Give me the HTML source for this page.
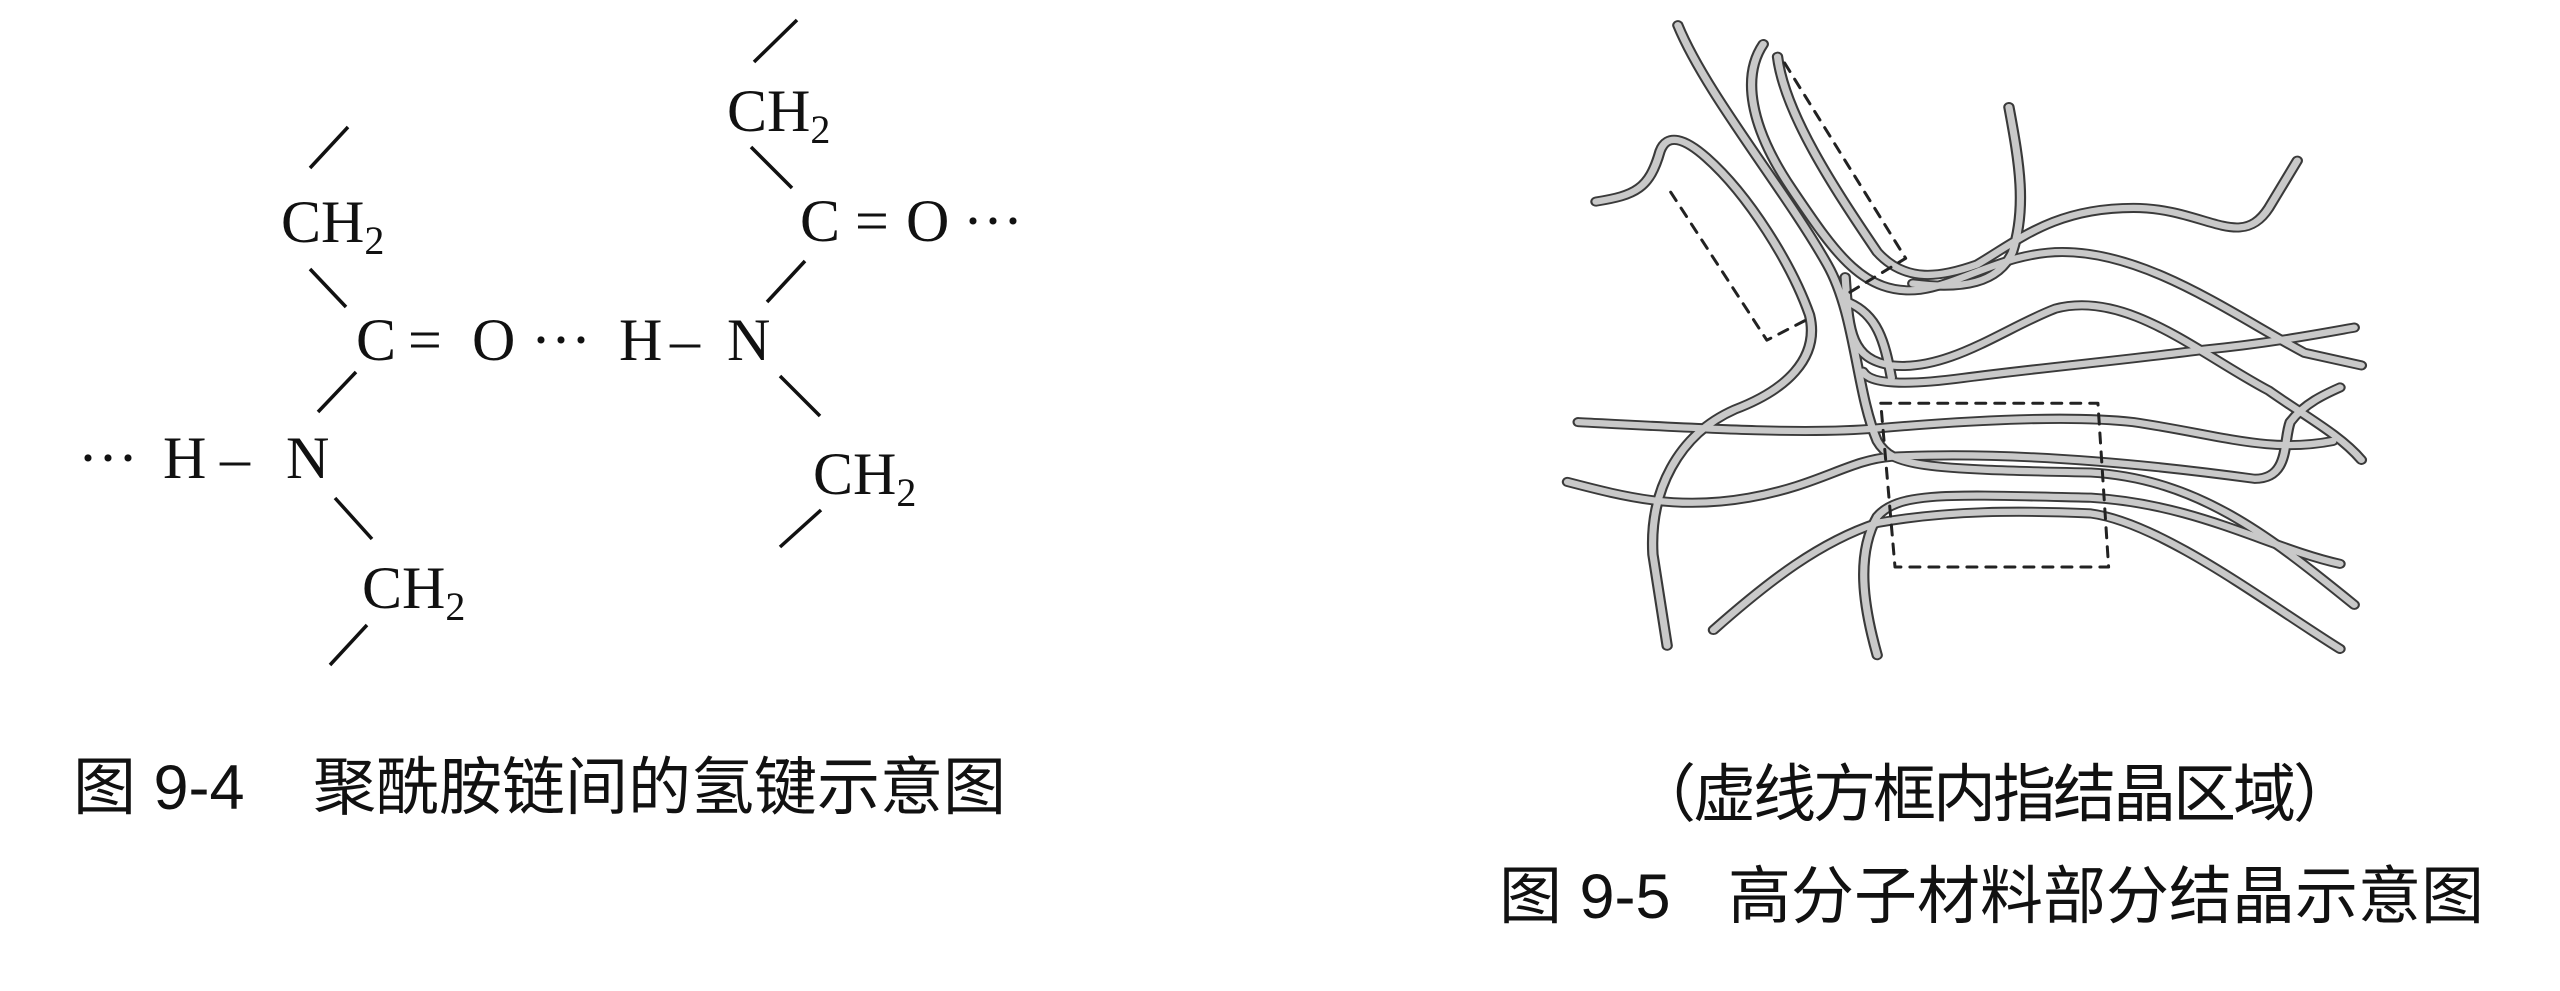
<!DOCTYPE html>
<html><head><meta charset="utf-8"><style>
html,body{margin:0;padding:0;background:#fff;}
body{width:2560px;height:991px;position:relative;overflow:hidden;}
.t{position:absolute;font-family:"Liberation Serif","Noto Serif CJK SC",serif;font-size:60px;color:#111;white-space:nowrap;line-height:1;}
.t sub{font-size:40px;vertical-align:-12px;}
.c{position:absolute;font-family:"Liberation Sans","Noto Sans CJK SC",sans-serif;font-size:63px;color:#111;white-space:nowrap;line-height:1;}
svg{position:absolute;left:0;top:0;}
</style></head><body>
<svg width="2560" height="991" viewBox="0 0 2560 991">
<g stroke="#111" stroke-width="3.5" fill="none">
<line x1="310" y1="168" x2="348" y2="127"/>
<line x1="310" y1="269" x2="346" y2="307"/>
<line x1="356" y1="372" x2="318" y2="412"/>
<line x1="335" y1="498" x2="372" y2="539"/>
<line x1="367" y1="625" x2="330" y2="665"/>
<line x1="797" y1="20" x2="754" y2="62"/>
<line x1="751" y1="147" x2="792" y2="188"/>
<line x1="805" y1="261" x2="767" y2="302"/>
<line x1="780" y1="376" x2="820" y2="416"/>
<line x1="821" y1="510" x2="780" y2="547"/>
</g>
<g transform="translate(1450,0) scale(0.712,0.63)" fill="none" stroke-linecap="round" stroke-linejoin="round">
<defs>
<g id="strands">
<path d="M320,40 C360,150 470,300 530,420 C570,500 570,620 600,700 C620,740 660,745 900,750 C1050,760 1150,850 1270,960"/>
<path d="M440,70 C410,120 420,200 480,300 C540,400 580,470 660,460 C720,450 780,400 860,400 C980,400 1100,500 1200,560 L1280,580"/>
<path d="M460,90 C470,180 540,300 600,400 C640,450 690,440 740,420 C800,380 850,330 960,330 C1060,330 1110,400 1150,330 L1190,255"/>
<path d="M205,320 C260,310 280,300 295,240 C305,210 330,220 360,250 C420,310 480,420 505,500 C520,570 470,620 400,650 C320,690 280,780 285,880 L305,1025"/>
<path d="M785,170 C800,260 810,330 790,400 C770,450 720,460 650,450"/>
<path d="M180,670 C350,680 500,690 600,680 C750,665 880,660 960,670 C1080,690 1150,720 1240,700"/>
<path d="M165,765 C250,790 320,810 420,790 C520,770 560,730 620,725 C800,715 1000,740 1130,760 C1180,760 1170,700 1180,670 C1200,640 1230,625 1250,615"/>
<path d="M370,1000 C450,920 520,860 600,830 C700,810 800,810 900,815 C1000,830 1150,960 1250,1030"/>
<path d="M600,1040 C580,960 570,880 600,820 C630,780 700,785 900,790 C1050,800 1150,870 1250,895"/>
<path d="M555,440 C560,520 560,570 620,580 C700,590 780,520 850,490 C950,460 1050,560 1150,620 C1200,660 1250,690 1280,730"/>
<path d="M580,590 C590,610 640,612 720,600 C820,585 960,570 1060,555 C1150,545 1220,530 1270,520"/>
<path d="M560,480 C600,500 610,540 620,600"/>
</g>
</defs>
<use href="#strands" stroke="#3a3a3a" stroke-width="16" style="vector-effect:non-scaling-stroke"/>
<use href="#strands" stroke="#c9c9c9" stroke-width="10" style="vector-effect:non-scaling-stroke"/>
<g stroke="#222" stroke-width="3" stroke-dasharray="10 9">
<polyline points="310,305 445,540 500,508" vector-effect="non-scaling-stroke"/>
<polyline points="470,100 640,410 560,465" vector-effect="non-scaling-stroke"/>
<polyline points="605,640 910,640 925,900 625,900 605,640" vector-effect="non-scaling-stroke"/>
</g>
</g>
</svg>

<div class="t" style="left:281px;top:192px;">CH<sub>2</sub></div>
<div class="t" style="left:356px;top:310px;">C</div>
<div class="t" style="left:408px;top:310px;">=</div>
<div class="t" style="left:472px;top:310px;">O</div>
<div class="t" style="left:531px;top:310px;">···</div>
<div class="t" style="left:619px;top:310px;">H</div>
<div class="t" style="left:670px;top:310px;">–</div>
<div class="t" style="left:727px;top:310px;">N</div>
<div class="t" style="left:78px;top:428px;">···</div>
<div class="t" style="left:163px;top:428px;">H</div>
<div class="t" style="left:220px;top:428px;">–</div>
<div class="t" style="left:286px;top:428px;">N</div>
<div class="t" style="left:362px;top:558px;">CH<sub>2</sub></div>
<div class="t" style="left:727px;top:81px;">CH<sub>2</sub></div>
<div class="t" style="left:800px;top:191px;">C</div>
<div class="t" style="left:855px;top:191px;">=</div>
<div class="t" style="left:906px;top:191px;">O</div>
<div class="t" style="left:963px;top:191px;">···</div>
<div class="t" style="left:813px;top:444px;">CH<sub>2</sub></div>

<div class="c" style="left:73px;top:757px;">图 9-4</div>
<div class="c" style="left:313px;top:757px;">聚酰胺链间的氢键示意图</div>
<div class="c" style="left:1633px;top:764px;letter-spacing:-3px;">（虚线方框内指结晶区域）</div>
<div class="c" style="left:1499px;top:866px;">图 9-5</div>
<div class="c" style="left:1728px;top:866px;">高分子材料部分结晶示意图</div>
</body></html>
